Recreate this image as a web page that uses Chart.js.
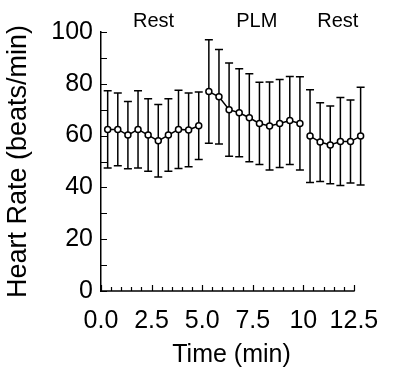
<!DOCTYPE html>
<html>
<head>
<meta charset="utf-8">
<script src="https://cdn.jsdelivr.net/npm/chart.js@4"></script>
<style>
    html, body { margin: 0; padding: 0; background: #fff; }
    #wrap { width: 394px; height: 375px; position: relative; }
</style>
</head>
<body>
<div id="wrap"><canvas id="hrChart"></canvas></div>
<script>
// 时间（分钟）：每段的采样点
const restTimes1 = [0.33, 0.83, 1.33, 1.83, 2.33, 2.83, 3.33, 3.83, 4.33, 4.83];
const plmTimes = [5.33, 5.83, 6.33, 6.83, 7.33, 7.83, 8.33, 8.83, 9.33, 9.83];
const restTimes2 = [10.33, 10.83, 11.33, 11.83, 12.33, 12.83];

// 心率均值
const restMeans1 = [62.4, 62.4, 60.2, 62.4, 60.2, 58.0, 60.2, 62.4, 62.2, 63.8];
const plmMeans = [77.0, 75.0, 70.0, 68.8, 66.9, 64.7, 63.7, 64.7, 65.8, 64.7];
const restMeans2 = [59.8, 57.5, 56.4, 57.7, 57.7, 59.8];

// 标准差（误差线）
const restSD1 = [14.9, 14.0, 13.0, 14.9, 14.0, 14.0, 14.0, 15.1, 14.2, 13.0];
const plmSD = [20.0, 18.2, 18.0, 17.0, 17.0, 15.9, 17.0, 17.0, 17.0, 18.0];
const restSD2 = [17.9, 15.2, 15.0, 17.0, 16.0, 18.9];

// 坐标轴刻度标签
const xTickValues = [0, 2.5, 5, 7.5, 10, 12.5];
const xTickLabels = ['0.0', '2.5', '5.0', '7.5', '10', '12.5'];
const yTickLabels = ['0', '20', '40', '60', '80', '100'];
const X_AXIS_END = 12.5;   // 横轴线画到这里

// 顶部分段标签
const phaseNames = ['Rest', 'PLM', 'Rest'];
const phaseCenters = [2.6, 7.7, 11.7];

const FONT = '"Liberation Sans", Arial, Helvetica, sans-serif';

function makePoints(times, means, sds) {
    return times.map((t, i) => ({ x: t, y: means[i], sd: sds[i] }));
}

function makeDataset(points) {
    return {
        data: points,
        borderColor: '#000',
        borderWidth: 1.5,
        pointRadius: 3,
        pointHoverRadius: 3,
        pointBackgroundColor: '#fff',
        pointBorderColor: '#000',
        pointBorderWidth: 1.5,
        tension: 0,
        clip: false
    };
}

// 误差线插件：画在点的下面
const errorBars = {
    id: 'errorBars',
    beforeDatasetsDraw(chart) {
        const ctx = chart.ctx;
        const ys = chart.scales.y;
        ctx.save();
        ctx.strokeStyle = '#000';
        ctx.lineWidth = 1.5;
        chart.data.datasets.forEach((ds, di) => {
            const meta = chart.getDatasetMeta(di);
            meta.data.forEach((el, i) => {
                const p = ds.data[i];
                const top = ys.getPixelForValue(p.y + p.sd);
                const bot = ys.getPixelForValue(p.y - p.sd);
                ctx.beginPath();
                ctx.moveTo(el.x, top);
                ctx.lineTo(el.x, bot);
                ctx.moveTo(el.x - 4, top);
                ctx.lineTo(el.x + 4, top);
                ctx.moveTo(el.x - 4, bot);
                ctx.lineTo(el.x + 4, bot);
                ctx.stroke();
            });
        });
        ctx.restore();
    }
};

// 横轴线、向内的刻度线、顶部分段标签
const innerTicks = {
    id: 'innerTicks',
    afterDraw(chart) {
        const ctx = chart.ctx;
        const xs = chart.scales.x;
        const ys = chart.scales.y;
        const area = chart.chartArea;
        ctx.save();
        ctx.strokeStyle = '#000';

        // 横轴线
        ctx.lineWidth = 1.5;
        ctx.beginPath();
        ctx.moveTo(area.left - 0.75, area.bottom);
        ctx.lineTo(xs.getPixelForValue(X_AXIS_END) + 0.75, area.bottom);
        ctx.stroke();

        ctx.lineWidth = 1.2;
        ctx.beginPath();
        for (let v = 0; v <= X_AXIS_END + 1e-9; v += 0.5) {
            const px = Math.round(xs.getPixelForValue(v)) + 0.5;
            const len = (Math.abs(v / 2.5 - Math.round(v / 2.5)) < 1e-6) ? 6 : 4;
            ctx.moveTo(px, area.bottom);
            ctx.lineTo(px, area.bottom - len);
        }
        for (let v = 0; v <= 100; v += 10) {
            const py = Math.round(ys.getPixelForValue(v)) + 0.5;
            ctx.moveTo(area.left, py);
            ctx.lineTo(area.left + 6, py);
        }
        ctx.stroke();

        ctx.fillStyle = '#000';
        ctx.font = '20px ' + FONT;
        ctx.textAlign = 'center';
        ctx.textBaseline = 'middle';
        phaseNames.forEach((name, i) => {
            ctx.fillText(name, xs.getPixelForValue(phaseCenters[i]), 21);
        });
        ctx.restore();
    }
};

document.addEventListener('DOMContentLoaded', function() {
    const ctx = document.getElementById('hrChart').getContext('2d');

    new Chart(ctx, {
        type: 'line',
        data: {
            datasets: [
                makeDataset(makePoints(restTimes1, restMeans1, restSD1)),
                makeDataset(makePoints(plmTimes, plmMeans, plmSD)),
                makeDataset(makePoints(restTimes2, restMeans2, restSD2))
            ]
        },
        options: {
            responsive: true,
            maintainAspectRatio: false,
            animation: false,
            layout: {
                padding: { top: 32, right: 23.5, left: 0, bottom: 0 }
            },
            plugins: {
                legend: { display: false },
                tooltip: { enabled: false }
            },
            scales: {
                x: {
                    type: 'linear',
                    min: 0,
                    max: 12.9,
                    afterFit: function(scale) { scale.height = 84; },
                    afterBuildTicks: function(scale) {
                        scale.ticks = xTickValues.map(v => ({ value: v }));
                    },
                    grid: { drawOnChartArea: false, drawTicks: false },
                    border: { display: false },
                    ticks: {
                        padding: 15,
                        color: '#000',
                        maxRotation: 0,
                        autoSkip: false,
                        font: { family: FONT, size: 25 },
                        callback: function(value, index) {
                            return xTickLabels[index];
                        }
                    },
                    title: {
                        display: true,
                        text: 'Time (min)',
                        color: '#000',
                        font: { family: FONT, size: 25 },
                        padding: { top: 0, bottom: 5 }
                    }
                },
                y: {
                    min: 0,
                    max: 100,
                    afterFit: function(scale) { scale.width = 101; },
                    grid: { drawOnChartArea: false, drawTicks: false },
                    border: { display: true, color: '#000', width: 1.5 },
                    ticks: {
                        stepSize: 20,
                        padding: 8,
                        color: '#000',
                        font: { family: FONT, size: 25 },
                        callback: function(value, index) {
                            return yTickLabels[index];
                        }
                    },
                    title: {
                        display: true,
                        text: 'Heart Rate (beats/min)',
                        color: '#000',
                        font: { family: FONT, size: 27 },
                        padding: { top: 2, bottom: 0 }
                    }
                }
            }
        },
        plugins: [errorBars, innerTicks]
    });
});
</script>
</body>
</html>
